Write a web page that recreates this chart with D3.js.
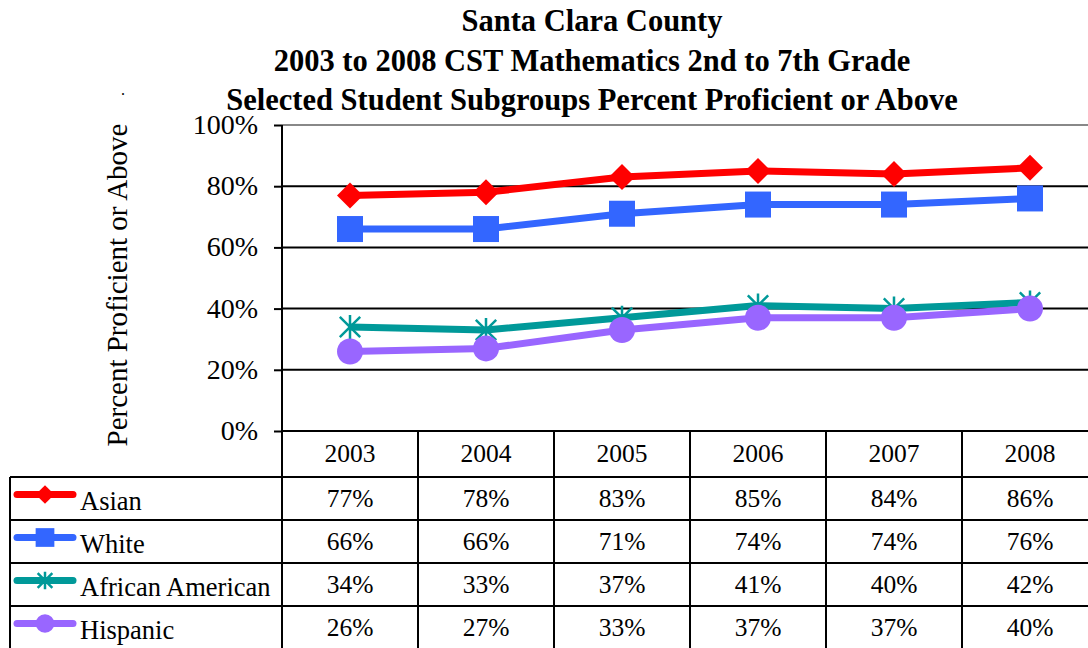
<!DOCTYPE html>
<html>
<head>
<meta charset="utf-8">
<script src="https://cdn.jsdelivr.net/npm/d3@7"></script>
<style>
  body { margin: 0; background: #fff; }
  svg text { font-family: "Liberation Serif", "Times New Roman", serif !important; fill: #000; }
</style>
</head>
<body>
<div id="chart"></div>
<script>
const years = ['2003', '2004', '2005', '2006', '2007', '2008'];
const asian = [77, 78, 83, 85, 84, 86];
const white = [66, 66, 71, 74, 74, 76];
const africanAmerican = [34, 33, 37, 41, 40, 42];
const hispanic = [26, 27, 33, 37, 37, 40];
const yTicks = [0, 20, 40, 60, 80, 100];

const series = [
  { name: 'Asian', values: asian, color: '#ff0000', marker: 'diamond' },
  { name: 'White', values: white, color: '#3366ff', marker: 'square' },
  { name: 'African American', values: africanAmerican, color: '#009999', marker: 'star' },
  { name: 'Hispanic', values: hispanic, color: '#9966ff', marker: 'circle' },
];

const width = 1088;
const height = 648;
const margin = { top: 125, left: 282, bottom: 431 };
const rowH = 43;

const svg = d3.select('#chart').append('svg')
  .attr('width', width).attr('height', height);

// title
const title = ['Santa Clara County',
  '2003 to 2008 CST Mathematics 2nd to 7th Grade',
  'Selected Student Subgroups Percent Proficient or Above'];
svg.append('g').selectAll('text').data(title).enter().append('text')
  .attr('x', 592).attr('y', (d, i) => 31 + i * 39.5)
  .attr('text-anchor', 'middle')
  .style('font-size', '30.5px').style('font-weight', 'bold')
  .text(d => d);

const x = d3.scaleBand().domain(years).range([margin.left, margin.left + 136 * 6]);
const y = d3.scaleLinear().domain([0, 100]).range([margin.bottom, margin.top]);

// gridlines
svg.append('g').selectAll('line').data(yTicks.filter(t => t > 0 && t < 100)).enter().append('line')
  .attr('x1', margin.left).attr('x2', width)
  .attr('y1', d => y(d)).attr('y2', d => y(d))
  .attr('stroke', '#000').attr('stroke-width', 2);
svg.append('line')
  .attr('x1', margin.left).attr('x2', width)
  .attr('y1', y(100)).attr('y2', y(100))
  .attr('stroke', '#888').attr('stroke-width', 2);

// y axis
const yAxis = svg.append('g')
  .attr('transform', `translate(${margin.left},0)`)
  .call(d3.axisLeft(y).tickValues(yTicks).tickFormat(d => d + '%').tickSize(8).tickPadding(16));
yAxis.select('.domain').remove();
yAxis.selectAll('line').attr('stroke', '#000').attr('stroke-width', 2);
yAxis.selectAll('text').style('font-size', '28px').attr('dy', '0.3em');

svg.append('text')
  .attr('transform', `translate(127,285) rotate(-90)`)
  .attr('text-anchor', 'middle')
  .style('font-size', '29px')
  .text('Percent Proficient or Above');
svg.append('text')
  .attr('x', 121).attr('y', 95)
  .style('font-size', '16px')
  .text('.');

// table
const tableTop = margin.bottom + 46;
const tableBottom = tableTop + rowH * series.length;
const grid = svg.append('g').attr('stroke', '#000').attr('stroke-width', 2);
const colEdges = years.map(d => x(d)).concat([x(years[5]) + x.bandwidth()]);
grid.selectAll('.col').data(colEdges).enter().append('line')
  .attr('x1', d => d).attr('x2', d => d)
  .attr('y1', d => d === margin.left ? margin.top : margin.bottom)
  .attr('y2', tableBottom);
grid.append('line').attr('x1', margin.left).attr('x2', width)
  .attr('y1', margin.bottom).attr('y2', margin.bottom);
grid.append('line').attr('x1', 10).attr('x2', 10)
  .attr('y1', tableTop).attr('y2', tableBottom);
grid.selectAll('.row').data(d3.range(series.length + 1)).enter().append('line')
  .attr('x1', 10).attr('x2', width)
  .attr('y1', i => tableTop + i * rowH).attr('y2', i => tableTop + i * rowH);

// year header
svg.append('g').selectAll('text').data(years).enter().append('text')
  .attr('x', d => x(d) + x.bandwidth() / 2)
  .attr('y', margin.bottom + 31)
  .attr('text-anchor', 'middle')
  .style('font-size', '25.5px')
  .text(d => d);

function drawMarker(g, type, color, cx, cy, s) {
  if (type === 'diamond') {
    g.append('path').attr('d', `M${cx},${cy - s}L${cx + s},${cy}L${cx},${cy + s}L${cx - s},${cy}Z`)
      .attr('fill', color);
  } else if (type === 'square') {
    g.append('rect').attr('x', cx - s).attr('y', cy - s).attr('width', 2 * s).attr('height', 2 * s)
      .attr('fill', color);
  } else if (type === 'circle') {
    g.append('circle').attr('cx', cx).attr('cy', cy).attr('r', s).attr('fill', color);
  } else {
    const a = s * 0.85;
    g.append('path')
      .attr('d', `M${cx - a},${cy - a}L${cx + a},${cy + a}M${cx - a},${cy + a}L${cx + a},${cy - a}M${cx},${cy - s}L${cx},${cy + s}`)
      .attr('stroke', color).attr('stroke-width', 2.5).attr('fill', 'none');
  }
}

const markerSize = { diamond: 13, square: 13, circle: 13, star: 12 };

// rows
series.forEach((s, i) => {
  const cy = tableTop + i * rowH + rowH / 2;
  const g = svg.append('g');
  g.append('line').attr('x1', 17).attr('x2', 73).attr('y1', cy - 4).attr('y2', cy - 4)
    .attr('stroke', s.color).attr('stroke-width', 7).attr('stroke-linecap', 'round');
  drawMarker(g, s.marker, s.color, 45, cy - 4, markerSize[s.marker] * 0.72);
  g.append('text').attr('x', 80).attr('y', cy + 11)
    .style('font-size', '26.5px').text(s.name);
  g.selectAll('.v').data(s.values).enter().append('text')
    .attr('x', (d, j) => x(years[j]) + x.bandwidth() / 2)
    .attr('y', cy + 8)
    .attr('text-anchor', 'middle')
    .style('font-size', '25.5px')
    .text(d => d + '%');
});

// lines
const line = d3.line().x((d, i) => x(years[i]) + x.bandwidth() / 2).y(d => y(d));
series.forEach(s => {
  svg.append('path').datum(s.values)
    .attr('d', line)
    .attr('fill', 'none').attr('stroke', s.color).attr('stroke-width', 7)
    .attr('stroke-linejoin', 'round');
  const g = svg.append('g');
  s.values.forEach((v, i) => {
    drawMarker(g, s.marker, s.color, x(years[i]) + x.bandwidth() / 2, y(v), markerSize[s.marker]);
  });
});
</script>
</body>
</html>
